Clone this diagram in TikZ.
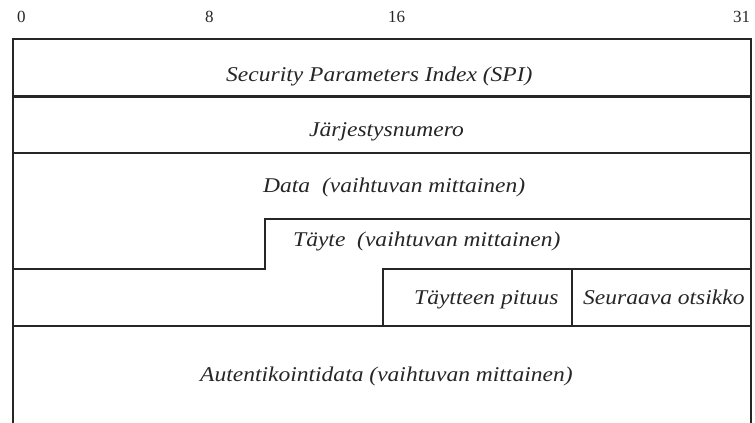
\documentclass[tikz,border=0pt]{standalone}
\usepackage{fontspec}
\setmainfont{Liberation Serif}
\newfontfamily\labelfont{Liberation Serif}[FakeStretch=1.12]
\begin{document}
\begin{tikzpicture}[x=1pt,y=-1pt,
  frame/.style={line width=1.8pt,draw=black!85},
  thickline/.style={line width=3pt,draw=black!85},
  inner/.style={line width=1.5pt,draw=black!85},
  field/.style={font=\labelfont\fontsize{21}{21}\selectfont\itshape,inner sep=0pt,text=black!85,anchor=base west},
  bitnum/.style={font=\fontsize{17}{17}\selectfont,inner sep=0pt,text=black!85,anchor=base west}]
\useasboundingbox (0,0) rectangle (755,423);
% bit numbers
\node[bitnum] (b0) at (17,23) {0};
\node[bitnum] (b8) at (205,23) {8};
\node[bitnum] (b16) at (388,23) {16};
\node[bitnum] (b31) at (733,23) {31};
% frame
\coordinate (tl) at (13,39);
\coordinate (tr) at (751,39);
\coordinate (bl) at (13,423);
\coordinate (br) at (751,423);
\draw[frame] (bl) -- (tl) -- (tr) -- (br);
\draw[thickline] (13,96) -- (751,96);
\draw[inner] (13,153) -- (751,153);
\draw[inner] (13,269) -- (265,269) -- (265,219) -- (751,219);
\draw[inner] (383,326) -- (383,269) -- (751,269);
\draw[inner] (13,326) -- (751,326);
\draw[inner] (572,269) -- (572,326);
% labels
\node[field] (spi) at (226,81) {Security Parameters Index (SPI)};
\node[field] (seq) at (309,136) {Järjestysnumero};
\node[field] (data) at (263,192) {Data\ \ (vaihtuvan mittainen)};
\node[field] (pad) at (293,246) {Täyte\ \ (vaihtuvan mittainen)};
\node[field] (padlen) at (414,304) {Täytteen pituus};
\node[field] (next) at (583,304) {Seuraava otsikko};
\node[field] (auth) at (200,381) {Autentikointidata (vaihtuvan mittainen)};
\end{tikzpicture}
\end{document}
